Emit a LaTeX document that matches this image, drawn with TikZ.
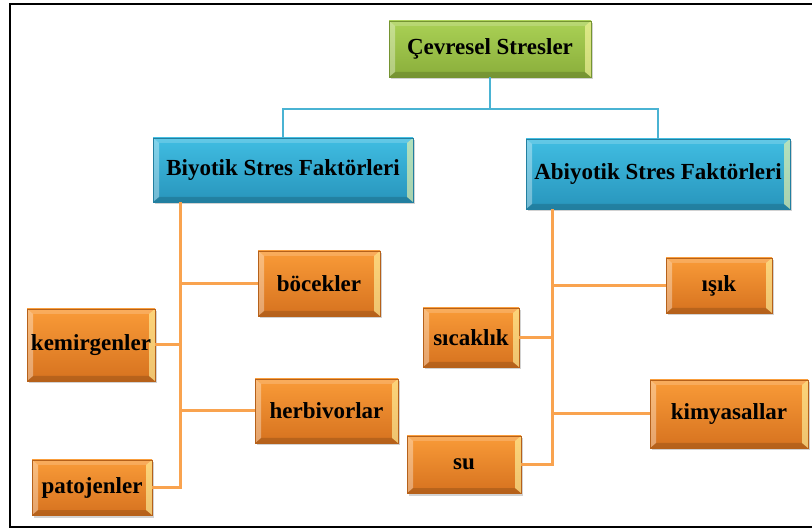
\documentclass[tikz,border=0pt]{standalone}
\usepackage{fontspec}
\setmainfont{Liberation Serif}
\usetikzlibrary{calc,shadows}
\definecolor{orTop}{HTML}{F99B38}
\definecolor{orBot}{HTML}{D6721F}
\definecolor{orLine}{HTML}{F9A34F}
\definecolor{blTop}{HTML}{40BDE2}
\definecolor{blBot}{HTML}{2895BC}
\definecolor{blLine}{HTML}{4AB3D3}
\definecolor{grTop}{HTML}{AAD155}
\definecolor{grBot}{HTML}{8AAE3B}
\begin{document}
\begin{tikzpicture}[x=1pt,y=-1pt,
  bevel/.style={path picture={
    \coordinate (nw) at (path picture bounding box.north west);
    \coordinate (ne) at (path picture bounding box.north east);
    \coordinate (sw) at (path picture bounding box.south west);
    \coordinate (se) at (path picture bounding box.south east);
    \fill[white,opacity=.18] (nw) -- ($(nw)+(6pt,-5pt)$) -- ($(ne)+(-6pt,-5pt)$) -- (ne) -- cycle;
    \fill[black,opacity=.15] (sw) -- ($(sw)+(6pt,5pt)$) -- ($(se)+(-6pt,5pt)$) -- (se) -- cycle;
    \fill[white,opacity=.35] (nw) -- ($(nw)+(6pt,-5pt)$) -- ($(sw)+(6pt,5pt)$) -- (sw) -- cycle;
    \fill[yellow!35!white,opacity=.6] (ne) -- ($(ne)+(-6pt,-5pt)$) -- ($(se)+(-6pt,5pt)$) -- (se) -- cycle;
  }},
  boxbase/.style={bevel, inner sep=0pt, align=center, text=black,
    font=\fontsize{23}{27}\selectfont\bfseries,
    drop shadow={shadow xshift=2pt,shadow yshift=-2.5pt,opacity=.35}},
  orbox/.style={boxbase, top color=orTop, bottom color=orBot, draw=orBot!85!black, line width=.4pt},
  blbox/.style={boxbase, top color=blTop, bottom color=blBot, draw=blBot!85!black, line width=.4pt},
  grbox/.style={boxbase, top color=grTop, bottom color=grBot, draw=grBot!85!black, line width=.4pt},
  bline/.style={draw=blLine, line width=2.6pt},
  oline/.style={draw=orLine, line width=3pt},
  frameline/.style={draw=black, line width=2.6pt}
]
\useasboundingbox (0,0) rectangle (812,529);
\fill[white] (0,0) rectangle (812,529);
\draw[frameline] (812,4) -- (10,4) -- (10,527) -- (812,527);

% junction coordinates
\coordinate (tj) at (490,109);
\coordinate (lt) at (180,200);
\coordinate (rt) at (552,207);

% nodes
\node[grbox, minimum width=202pt, minimum height=56pt] (top) at (490,49) {Çevresel Stresler};
\node[blbox, minimum width=260pt, minimum height=64pt] (biy) at (283,170) {Biyotik Stres Faktörleri};
\node[blbox, minimum width=264pt, minimum height=70pt] (abi) at (658,174) {Abiyotik Stres Faktörleri};
\node[orbox, minimum width=122pt, minimum height=65pt] (boc) at (319,283.5) {böcekler};
\node[orbox, minimum width=128pt, minimum height=72pt] (kem) at (91,345) {kemirgenler};
\node[orbox, minimum width=143pt, minimum height=64pt] (her) at (326.5,411) {herbivorlar};
\node[orbox, minimum width=120pt, minimum height=55pt] (pat) at (92,487.5) {patojenler};
\node[orbox, minimum width=106pt, minimum height=55pt] (isik) at (719,285.5) {ışık};
\node[orbox, minimum width=96pt, minimum height=59pt] (sic) at (471,337.5) {sıcaklık};
\node[orbox, minimum width=158pt, minimum height=68pt] (kim) at (729,414) {kimyasallar};
\node[orbox, minimum width=114pt, minimum height=57pt] (su) at (464,464.5) {su};

% connectors
\draw[bline] (top.south) -- (tj) -| (biy.north);
\draw[bline] (tj) -| (abi.north);
\draw[oline] (biy.south -| lt) |- (pat.east);
\draw[oline] (abi.south -| rt) |- (su.east);
\draw[oline] (kem.east) -- (kem.east -| lt);
\draw[oline] (boc.west) -- (boc.west -| lt);
\draw[oline] (her.west) -- (her.west -| lt);
\draw[oline] (sic.east) -- (sic.east -| rt);
\draw[oline] (isik.west) -- (isik.west -| rt);
\draw[oline] (kim.west) -- (kim.west -| rt);
\end{tikzpicture}
\end{document}
